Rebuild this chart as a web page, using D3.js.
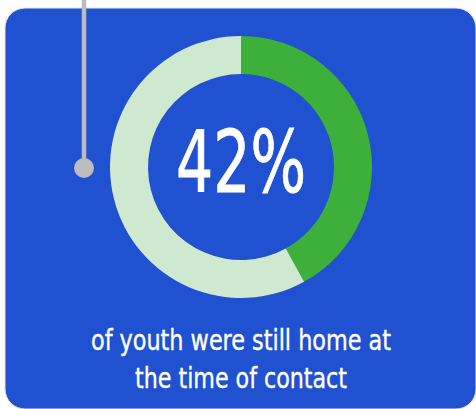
<!DOCTYPE html>
<html>
<head>
<meta charset="utf-8">
<script src="https://cdn.jsdelivr.net/npm/d3@7"></script>
<style>
  body { margin: 0; background: #fff; }
  svg { display: block; }
</style>
</head>
<body>
<svg id="chart" width="476" height="409"></svg>
<script>
const svg = d3.select("#chart");
const width = +svg.attr("width");
const height = +svg.attr("height");

// data
const categories = ["still home", "not home"];
const values = [42, 58];
const colors = ["#3daf3b", "#cfe9d0"];
const headline = "42%";
const caption = ["of youth were still home at", "the time of contact"];
const captionWidths = [300, 212]; // measured line widths, condensed face

const cx = 241, cy = 167;
const outerR = 131, innerR = 93;
const font = "'DejaVu Sans Condensed', 'DejaVu Sans', sans-serif";

// card
svg.append("rect")
  .attr("x", 5).attr("y", 8)
  .attr("width", 471).attr("height", 401)
  .attr("rx", 20)
  .attr("fill", "#1f51d1")
  .attr("stroke", "#e3e6ee").attr("stroke-width", 1);

// leader line with dot
svg.append("line")
  .attr("x1", 84).attr("y1", 0).attr("x2", 84).attr("y2", 168)
  .attr("stroke", "#bdbcbd").attr("stroke-width", 4.5);
svg.append("circle")
  .attr("cx", 84).attr("cy", 168).attr("r", 10)
  .attr("fill", "#bdbcbd");

// donut
const pie = d3.pie().sort(null).value(d => d);
const arc = d3.arc().innerRadius(innerR).outerRadius(outerR);
const color = d3.scaleOrdinal().domain(categories).range(colors);

svg.append("g")
  .attr("transform", `translate(${cx},${cy})`)
  .selectAll("path")
  .data(pie(values))
  .join("path")
  .attr("d", arc)
  .attr("fill", (d, i) => color(categories[i]));

// center label
svg.append("text")
  .attr("x", cx).attr("y", 192)
  .attr("text-anchor", "middle")
  .attr("fill", "#fff")
  .attr("stroke", "#fff").attr("stroke-width", 0.8)
  .attr("textLength", 130)
  .attr("lengthAdjust", "spacingAndGlyphs")
  .style("font-family", font)
  .style("font-size", "86px")
  .text(headline);

// caption
svg.append("g")
  .selectAll("text")
  .data(caption)
  .join("text")
  .attr("x", cx)
  .attr("y", (d, i) => 350 + i * 38)
  .attr("text-anchor", "middle")
  .attr("fill", "#fff")
  .attr("stroke", "#fff").attr("stroke-width", 0.35)
  .attr("textLength", (d, i) => captionWidths[i])
  .attr("lengthAdjust", "spacingAndGlyphs")
  .style("font-family", font)
  .style("font-size", "28px")
  .text(d => d);
</script>
</body>
</html>
